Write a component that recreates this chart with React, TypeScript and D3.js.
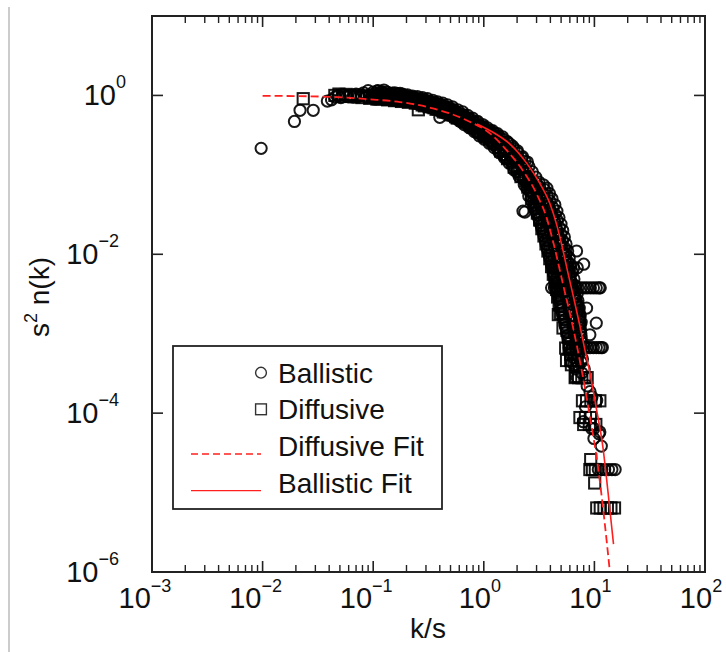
import React from 'react';
import * as d3 from 'd3';

type P = [number, number];

const xTickExps = [-3, -2, -1, 0, 1, 2];
const yTickExps = [0, -2, -4, -6];
const legendLabels = ['Ballistic', 'Diffusive', 'Diffusive Fit', 'Ballistic Fit'];
const xTitle = 'k/s';

// Fit curves
const diffFitX = [0.01, 0.0407, 0.0935, 0.175, 0.347, 0.705, 1.14, 1.62, 2.26, 3.03, 3.65, 4.22, 5.2, 6.4, 7.56, 8.94, 10.8, 12.2, 13.7];
const diffFitY = [0.99, 0.96, 0.893, 0.825, 0.687, 0.484, 0.332, 0.202, 0.113, 0.0562, 0.0305, 0.0147, 0.00421, 0.00121, 3.87e-4, 1.05e-4, 2.05e-5, 5.06e-6, 1.11e-6];
const ballFitX = [0.868, 1.263, 1.725, 2.458, 3.222, 3.968, 4.589, 5.095, 5.771, 6.54, 7.41, 8.222, 9.125, 10.34, 11.96, 13.27, 14.89];
const ballFitY = [0.4375, 0.332, 0.244, 0.1385, 0.0774, 0.0432, 0.0228, 0.0127, 0.0058, 0.00272, 0.00124, 6.17e-4, 3.16e-4, 1.21e-4, 3.66e-5, 1.02e-5, 2.24e-6];

// Ballistic (circles)
const ballisticLow: P[] = [
  [0.0097, 0.216], [0.0194, 0.47], [0.0218, 0.65], [0.0287, 0.65], [0.0385, 0.85], [0.042, 0.88],
  [0.045, 0.95], [0.048, 1.0], [0.051, 0.94], [0.054, 1.02], [0.058, 0.97], [0.062, 1.0], [0.066, 0.95],
  [0.07, 1.04], [0.074, 0.98], [0.078, 1.01], [0.082, 1.08], [0.086, 0.96], [0.09, 1.15], [0.093, 1.02],
  [0.096, 0.94], [0.11, 1.15], [0.125, 1.17], [0.4, 0.53], [2.26, 0.035], [2.35, 0.034],
];
const ballisticFlat: P[] = [
  [0.1, 1.1], [0.103, 0.9], [0.106, 1.0], [0.109, 1.13], [0.113, 0.92], [0.117, 1.03], [0.121, 1.09],
  [0.125, 0.89], [0.13, 0.98], [0.134, 1.1], [0.139, 0.9], [0.144, 1.02], [0.149, 1.07], [0.155, 0.87],
  [0.16, 0.97], [0.166, 1.05], [0.172, 0.9], [0.178, 1.0], [0.184, 1.04], [0.19, 0.85], [0.197, 0.95],
  [0.204, 1.02], [0.211, 0.84], [0.219, 0.93], [0.227, 0.98], [0.235, 0.8], [0.243, 0.9], [0.251, 0.97],
  [0.26, 0.78], [0.27, 0.87], [0.279, 0.94], [0.289, 0.75], [0.3, 0.84], [0.31, 0.91], [0.32, 0.71],
  [0.333, 0.8], [0.345, 0.87], [0.357, 0.67], [0.37, 0.77], [0.383, 0.83], [0.396, 0.64], [0.41, 0.73],
  [0.425, 0.8], [0.44, 0.6], [0.455, 0.69], [0.47, 0.76], [0.49, 0.56], [0.505, 0.65], [0.52, 0.72],
  [0.54, 0.52], [0.56, 0.6], [0.58, 0.66], [0.6, 0.48], [0.62, 0.55], [0.645, 0.62], [0.665, 0.43],
  [0.69, 0.5], [0.715, 0.56], [0.74, 0.39], [0.765, 0.46], [0.79, 0.52], [0.82, 0.35], [0.85, 0.41],
  [0.88, 0.47], [0.91, 0.31], [0.94, 0.37], [0.975, 0.43], [1.01, 0.28], [1.045, 0.34], [1.08, 0.39],
  [1.12, 0.25], [1.16, 0.3], [1.2, 0.36], [1.24, 0.22], [1.29, 0.27], [1.33, 0.33], [1.38, 0.19],
  [1.43, 0.24], [1.48, 0.3], [1.53, 0.165], [1.58, 0.21], [1.64, 0.26], [1.7, 0.14], [1.76, 0.18],
  [1.82, 0.23], [1.88, 0.115], [1.95, 0.155], [2.02, 0.2], [2.09, 0.095], [2.16, 0.13], [2.24, 0.17],
  [2.32, 0.075], [2.4, 0.11], [2.48, 0.145],
];
const ballisticFlatB: P[] = [
  [0.101, 0.98], [0.104, 1.06], [0.108, 0.94], [0.111, 1.04], [0.115, 0.97], [0.119, 1.12], [0.123, 0.95],
  [0.127, 1.04], [0.132, 0.92], [0.136, 1.0], [0.141, 1.06], [0.146, 0.93], [0.152, 1.0], [0.157, 1.08],
  [0.163, 0.9], [0.169, 0.99], [0.175, 1.06], [0.181, 0.88], [0.187, 0.96], [0.194, 1.0], [0.2, 0.87],
  [0.208, 0.97], [0.215, 0.9], [0.223, 0.95], [0.231, 0.85], [0.239, 0.94], [0.247, 0.83], [0.256, 0.9],
  [0.265, 0.82], [0.274, 0.9], [0.284, 0.8], [0.294, 0.88], [0.305, 0.77], [0.315, 0.85], [0.327, 0.75],
  [0.339, 0.82], [0.351, 0.72], [0.363, 0.81], [0.376, 0.7], [0.39, 0.78], [0.403, 0.67], [0.418, 0.76],
  [0.432, 0.65], [0.448, 0.72], [0.462, 0.61], [0.48, 0.7], [0.497, 0.58], [0.512, 0.68], [0.53, 0.56],
  [0.55, 0.64], [0.57, 0.51], [0.59, 0.6], [0.61, 0.5], [0.632, 0.58], [0.655, 0.47], [0.678, 0.55],
  [0.702, 0.44], [0.727, 0.51], [0.752, 0.41], [0.778, 0.49], [0.805, 0.38], [0.835, 0.45], [0.865, 0.34],
  [0.895, 0.42], [0.925, 0.33], [0.958, 0.4], [0.99, 0.3], [1.03, 0.37], [1.06, 0.3], [1.1, 0.33],
  [1.14, 0.27], [1.18, 0.33], [1.22, 0.24], [1.26, 0.3], [1.31, 0.22], [1.35, 0.28], [1.4, 0.2],
  [1.45, 0.26], [1.5, 0.18], [1.55, 0.24], [1.61, 0.16], [1.67, 0.22], [1.73, 0.15], [1.79, 0.2],
  [1.85, 0.13], [1.92, 0.17], [1.98, 0.11], [2.05, 0.15], [2.12, 0.1], [2.2, 0.14], [2.28, 0.088],
  [2.36, 0.12], [2.44, 0.08], [2.52, 0.105], [2.6, 0.075],
];
const ballisticOuter: P[] = [
  [0.95, 0.41], [1.05, 0.38], [1.15, 0.356], [1.263, 0.332], [1.38, 0.304], [1.5, 0.28], [1.62, 0.26],
  [1.725, 0.244], [1.87, 0.2145], [2.03, 0.188], [2.2, 0.165], [2.36, 0.148], [2.56, 0.127], [2.75, 0.109],
  [2.95, 0.0936], [3.15, 0.0813], [3.45, 0.075], [3.72, 0.068], [3.93, 0.058], [4.14, 0.05], [4.39, 0.042],
  [4.58, 0.035], [4.78, 0.029], [4.99, 0.024], [5.17, 0.02], [5.35, 0.0165], [5.54, 0.0135], [5.73, 0.011],
  [5.92, 0.009], [6.1, 0.0074], [6.31, 0.006], [6.53, 0.0049], [6.75, 0.004], [7.0, 0.0032], [7.1, 0.0026],
  [7.3, 0.0021], [7.45, 0.0017], [7.6, 0.0014],
  [3.55, 0.065], [3.75, 0.055], [3.95, 0.047], [4.2, 0.039], [4.4, 0.032], [4.6, 0.027], [4.8, 0.022],
  [4.98, 0.018], [5.15, 0.015], [5.35, 0.0122], [5.5, 0.01], [5.7, 0.0082], [5.85, 0.0067], [6.05, 0.0054],
  [6.25, 0.0044], [6.45, 0.0036], [6.65, 0.0029], [6.9, 0.0023], [7.1, 0.0019], [7.3, 0.0015], [7.4, 0.0012],
];
const ballisticSteep: P[] = [
  [2.56, 0.09], [2.75, 0.08], [2.9, 0.072], [2.45, 0.068], [3.1, 0.064], [2.7, 0.06], [3.3, 0.056],
  [2.55, 0.054], [2.95, 0.05], [3.6, 0.048], [2.75, 0.045], [3.2, 0.042], [3.85, 0.04], [2.9, 0.037],
  [3.45, 0.035], [4.05, 0.033], [3.05, 0.031], [3.65, 0.029], [4.3, 0.027], [3.2, 0.025], [3.85, 0.024],
  [4.5, 0.022], [3.35, 0.021], [4.0, 0.019], [4.7, 0.018], [3.5, 0.017], [4.2, 0.0155], [4.9, 0.0145],
  [3.65, 0.0135], [4.35, 0.0125], [5.15, 0.0118], [3.8, 0.011], [4.5, 0.0102], [5.35, 0.0095],
  [3.95, 0.009], [4.65, 0.0083], [5.55, 0.0078], [4.1, 0.0073], [4.85, 0.0066], [5.8, 0.0062],
  [4.25, 0.0058], [5.0, 0.0054], [6.0, 0.005], [4.4, 0.0047], [5.2, 0.0044], [6.25, 0.0041],
  [4.55, 0.0036], [5.4, 0.0034], [6.5, 0.0032], [4.7, 0.003], [5.6, 0.0028], [6.8, 0.0026],
  [4.85, 0.0025], [5.8, 0.0023], [7.1, 0.0022], [5.0, 0.002], [6.0, 0.0019], [7.3, 0.0018],
  [5.2, 0.0016], [6.2, 0.0015], [7.4, 0.0014], [5.4, 0.0013], [6.4, 0.0012], [7.5, 0.0011],
  [5.6, 0.00105], [6.6, 0.00097], [7.6, 0.0009], [5.8, 0.00085], [6.8, 0.00078], [7.5, 0.0007],
  [6.0, 0.00058], [7.0, 0.00052], [7.8, 0.00048], [6.3, 0.00043], [7.2, 0.00039], [8.1, 0.00036],
  [6.9, 0.011], [8.0, 0.0075], [8.5, 0.0021], [10.4, 0.00136], [9.1, 0.00097],
];
const ballisticSteepB: P[] = [
  [2.65, 0.085], [3.0, 0.078], [2.5, 0.075], [3.2, 0.07], [2.85, 0.066], [2.6, 0.062], [3.4, 0.06],
  [3.05, 0.057], [2.7, 0.052], [3.45, 0.052], [3.1, 0.047], [3.75, 0.044], [2.85, 0.042], [3.3, 0.039],
  [3.95, 0.037], [3.0, 0.034], [3.6, 0.032], [4.2, 0.03], [3.15, 0.028], [3.8, 0.026], [4.4, 0.025],
  [3.3, 0.023], [4.05, 0.022], [4.6, 0.02], [3.45, 0.019], [4.3, 0.018], [4.8, 0.016], [3.6, 0.015],
  [4.5, 0.014], [5.0, 0.013], [3.75, 0.012], [4.65, 0.0115], [5.25, 0.0105], [3.9, 0.0098], [4.8, 0.0094],
  [5.45, 0.0086], [4.05, 0.0081], [5.0, 0.0076], [5.7, 0.007], [4.2, 0.0066], [5.15, 0.0062], [5.9, 0.0057],
  [4.35, 0.0053], [5.35, 0.005], [6.1, 0.0046], [4.5, 0.0043], [5.5, 0.004], [6.4, 0.0037], [4.65, 0.0033],
  [5.7, 0.0031], [6.7, 0.0029], [4.8, 0.0027], [5.9, 0.0026], [7.0, 0.0024], [4.95, 0.0022], [6.1, 0.0021],
  [7.2, 0.002], [5.1, 0.0018], [6.3, 0.0017], [7.35, 0.0016], [5.3, 0.0015], [6.5, 0.0014], [7.45, 0.0013],
  [5.5, 0.0012], [6.7, 0.0011], [7.55, 0.001], [5.7, 0.00095], [6.9, 0.00088], [7.6, 0.0008], [5.9, 0.00075],
  [7.1, 0.0007], [6.2, 0.00062], [7.4, 0.00058], [6.5, 0.0005], [7.6, 0.00044], [6.7, 0.00036], [7.7, 0.00032],
  [7.0, 0.00028],
];
const ballisticRows: P[] = [
  [4.3, 0.00677], [4.55, 0.00677], [4.8, 0.00677], [5.1, 0.00677], [5.4, 0.00677], [5.75, 0.00677], [6.1, 0.00677], [6.5, 0.00677], [7.0, 0.00677],
  [4.1, 0.00378], [4.35, 0.00378], [4.6, 0.00378], [4.9, 0.00378], [5.2, 0.00378], [5.55, 0.00378], [5.9, 0.00378], [6.3, 0.00378], [6.7, 0.00378],
  [7.1, 0.00378], [7.6, 0.00378], [8.1, 0.00378], [8.6, 0.00378], [9.2, 0.00378], [9.8, 0.00378], [10.4, 0.00378], [11.0, 0.00378], [11.3, 0.00378],
  [5.9, 0.00067], [6.3, 0.00067], [6.7, 0.00067], [7.1, 0.00067], [7.6, 0.00067], [8.1, 0.00067], [8.6, 0.00067], [9.2, 0.00067], [9.8, 0.00067],
  [10.4, 0.00067], [11.0, 0.00067], [11.5, 0.00067], [11.8, 0.00067],
];
const ballisticTail: P[] = [
  [8.6, 2.2e-4], [9.12, 1.87e-4], [9.5, 1.6e-4], [10.5, 1.45e-4], [8.3, 1.2e-4], [7.94, 7.8e-5], [9.45, 6.4e-5],
  [9.9, 6.4e-5], [11.0, 5.5e-5], [11.2, 5.8e-5], [9.9, 4.8e-5], [11.55, 3.85e-5],
  [10.85, 1.95e-5], [11.6, 1.95e-5], [12.4, 1.95e-5], [13.4, 1.95e-5], [14.4, 1.95e-5], [15.4, 1.95e-5],
];

// Diffusive (squares)
const diffusiveFlat: P[] = [
  [0.0233, 0.91], [0.045, 1.0], [0.049, 1.04], [0.053, 0.97], [0.057, 1.03], [0.062, 0.99], [0.067, 0.96],
  [0.073, 1.01], [0.079, 0.94], [0.086, 0.99], [0.093, 0.92], [0.1, 0.97], [0.108, 0.9], [0.116, 0.95],
  [0.125, 0.93], [0.135, 0.88], [0.145, 0.94], [0.156, 0.86], [0.168, 0.91], [0.18, 0.84], [0.194, 0.89],
  [0.208, 0.82], [0.224, 0.86], [0.24, 0.8], [0.256, 0.66], [0.258, 0.83], [0.277, 0.76], [0.297, 0.8],
  [0.32, 0.72], [0.344, 0.76], [0.37, 0.67], [0.4, 0.71], [0.43, 0.62], [0.46, 0.66], [0.5, 0.57],
  [0.535, 0.61], [0.575, 0.52], [0.62, 0.56], [0.665, 0.47], [0.715, 0.5], [0.77, 0.42], [0.83, 0.45],
  [0.89, 0.37], [0.96, 0.4], [1.03, 0.32], [1.1, 0.35], [1.19, 0.27], [1.28, 0.3], [1.37, 0.22],
  [1.47, 0.25], [1.58, 0.18], [1.7, 0.2], [1.82, 0.145], [1.95, 0.16], [2.1, 0.11], [2.25, 0.12],
  [2.4, 0.085], [2.55, 0.09], [2.7, 0.065],
];
const diffusiveFlatB: P[] = [
  [0.11, 1.02], [0.12, 0.9], [0.13, 0.97], [0.15, 0.9], [0.17, 0.95], [0.19, 0.87], [0.21, 0.91],
  [0.23, 0.85], [0.265, 0.8], [0.29, 0.74], [0.31, 0.78], [0.355, 0.7], [0.385, 0.73], [0.415, 0.66],
  [0.45, 0.62], [0.48, 0.64], [0.52, 0.6], [0.555, 0.54], [0.6, 0.53], [0.64, 0.49], [0.69, 0.46],
  [0.74, 0.46], [0.8, 0.4], [0.86, 0.39], [0.92, 0.35], [1.0, 0.34], [1.07, 0.3], [1.15, 0.29],
  [1.23, 0.26], [1.33, 0.24], [1.42, 0.2], [1.53, 0.2], [1.64, 0.16], [1.76, 0.16], [1.88, 0.125],
  [2.02, 0.12], [2.17, 0.095], [2.33, 0.095], [2.5, 0.07], [2.62, 0.075],
];
const diffusiveSteep: P[] = [
  [2.85, 0.055], [3.0, 0.046], [2.7, 0.05], [3.15, 0.038], [2.9, 0.04], [3.35, 0.031], [3.05, 0.033],
  [3.5, 0.025], [3.2, 0.027], [3.7, 0.02], [3.35, 0.021], [3.85, 0.016], [3.5, 0.017], [4.0, 0.013],
  [3.65, 0.0135], [4.15, 0.0105], [3.8, 0.011], [4.3, 0.0085], [3.95, 0.0088], [4.45, 0.0068],
  [4.1, 0.007], [4.6, 0.0055], [4.25, 0.0056], [4.75, 0.0044], [4.4, 0.0045], [4.9, 0.0035],
  [4.55, 0.0036], [5.05, 0.0028], [4.65, 0.0029], [5.2, 0.0022], [4.8, 0.0023], [4.72, 0.00174],
  [5.35, 0.0018], [4.95, 0.0018], [5.5, 0.0014], [5.2, 0.00118], [5.65, 0.0011], [5.8, 0.0009],
  [5.95, 0.00075], [5.5, 0.00066], [6.1, 0.00055], [6.2, 0.000407], [6.92, 4.07e-4], [6.8, 2.9e-4],
];
const diffusiveTail: P[] = [
  [5.9, 6.7e-4], [6.3, 6.7e-4], [6.8, 6.7e-4], [7.3, 6.7e-4], [7.9, 6.7e-4],
  [5.6, 4.6e-4], [6.1, 4.6e-4], [6.6, 4.6e-4], [7.0, 4.6e-4],
  [6.7, 2.8e-4], [7.2, 2.8e-4], [7.7, 2.8e-4], [8.2, 2.8e-4], [8.6, 2.8e-4],
  [7.8, 1.43e-4], [8.5, 1.43e-4], [9.3, 1.43e-4], [10.2, 1.43e-4], [11.2, 1.43e-4],
  [7.4, 8.8e-5], [8.3, 8.8e-5], [9.2, 8.8e-5], [8.0, 7.2e-5], [9.0, 7.2e-5], [10.3, 7.2e-5],
  [9.26, 2.6e-5], [9.1, 1.95e-5], [9.6, 1.95e-5], [10.2, 1.95e-5], [10.06, 1.32e-5],
  [10.5, 6.4e-6], [11.3, 6.4e-6], [12.2, 6.4e-6], [13.1, 6.4e-6], [14.1, 6.4e-6], [15.2, 6.4e-6],
];

const W = 726, H = 652;
const L = 152, R = 705, T = 16, B = 572;
const FONT = '"Liberation Sans", Arial, Helvetica, sans-serif';
const INK = '#222';
const RED = '#ff1f1f';

export default function App() {
  const x = d3.scaleLog().domain([1e-3, 1e2]).range([L, R]);
  const y = d3.scaleLog().domain([1e-6, 10]).range([B, T]);

  const ballistic = [...ballisticLow, ...ballisticFlat, ...ballisticFlatB, ...ballisticOuter, ...ballisticSteep, ...ballisticSteepB, ...ballisticRows, ...ballisticTail];
  const diffusive = [...diffusiveFlat, ...diffusiveFlatB, ...diffusiveSteep, ...diffusiveTail];

  const line = d3.line<[number, number]>().x(d => x(d[0])).y(d => y(d[1])).curve(d3.curveMonotoneX);
  const diffFit = diffFitX.map((v, i) => [v, diffFitY[i]] as [number, number]);
  const ballFit = ballFitX.map((v, i) => [v, ballFitY[i]] as [number, number]);

  const minor: number[] = [];
  for (let e = -3; e < 2; e++) for (let m = 2; m <= 9; m++) minor.push(m * Math.pow(10, e));

  const r = 5.6;
  const s = 11.2;
  const rowY = [372.7, 409.3, 446, 482.7];

  return (
    <svg width={W} height={H} style={{ position: 'absolute', left: 0, top: 0, background: '#fff' }} fontFamily={FONT}>
      <rect x={0} y={0} width={W} height={H} fill="#fff" />
      <line x1={9} x2={9} y1={7} y2={H} stroke="#999" strokeWidth={1} />

      {/* legend */}
      <rect x={173} y={346} width={269} height={163} fill="#fff" stroke={INK} strokeWidth={1.8} />
      <circle cx={261} cy={rowY[0]} r={5.4} fill="none" stroke="#333" strokeWidth={1.4} />
      <rect x={261 - 5.4} y={rowY[1] - 5.4} width={10.8} height={10.8} fill="none" stroke="#333" strokeWidth={1.4} />
      <line x1={191} x2={261} y1={rowY[2] + 8} y2={rowY[2] + 8} stroke={RED} strokeWidth={1.3} strokeDasharray="7,4" />
      <line x1={191} x2={261} y1={rowY[3] + 8} y2={rowY[3] + 8} stroke={RED} strokeWidth={1.3} />
      {legendLabels.map((t, i) => (
        <text key={t} x={278} y={rowY[i] + 10} fontSize={28} fill="#111">{t}</text>
      ))}

      {/* points */}
      <g fill="none" stroke="#000" strokeWidth={2} strokeOpacity={0.9}>
        {ballistic.map((d, i) => (
          <circle key={'b' + i} cx={x(d[0])} cy={y(d[1])} r={r} />
        ))}
        {diffusive.map((d, i) => (
          <rect key={'d' + i} x={x(d[0]) - s / 2} y={y(d[1]) - s / 2} width={s} height={s} />
        ))}
      </g>

      {/* fits */}
      <path d={line(ballFit) || ''} fill="none" stroke={RED} strokeWidth={1.6} />
      <path d={line(diffFit) || ''} fill="none" stroke={RED} strokeWidth={1.8} strokeDasharray="8,4" />

      {/* frame */}
      <rect x={L} y={T} width={R - L} height={B - T} fill="none" stroke={INK} strokeWidth={2} />

      {/* x ticks */}
      {xTickExps.map(e => {
        const px = x(Math.pow(10, e));
        return (
          <g key={'xt' + e}>
            <line x1={px} x2={px} y1={B} y2={B - 11} stroke={INK} strokeWidth={1.6} />
            <line x1={px} x2={px} y1={T} y2={T + 11} stroke={INK} strokeWidth={1.6} />
            <text x={px + (e < 0 ? -7 : -4)} y={608} fontSize={29} textAnchor="middle" fill="#111">
              10<tspan dy={-16} fontSize={18}>{e < 0 ? '\u2212' + Math.abs(e) : String(e)}</tspan>
            </text>
          </g>
        );
      })}
      {minor.map((v, i) => {
        const px = x(v);
        return (
          <g key={'mn' + i}>
            <line x1={px} x2={px} y1={B} y2={B - 7} stroke={INK} strokeWidth={1.4} />
            <line x1={px} x2={px} y1={T} y2={T + 7} stroke={INK} strokeWidth={1.4} />
          </g>
        );
      })}

      {/* y ticks */}
      {yTickExps.map(e => {
        const py = y(Math.pow(10, e));
        return (
          <g key={'yt' + e}>
            <line x1={L} x2={L + 11} y1={py} y2={py} stroke={INK} strokeWidth={1.6} />
            <line x1={R} x2={R - 11} y1={py} y2={py} stroke={INK} strokeWidth={1.6} />
            <text x={e < 0 ? 119 : 126} y={py + 10} fontSize={29} textAnchor="end" fill="#111">
              10<tspan dy={-17} fontSize={18}>{e < 0 ? '\u2212' + Math.abs(e) : String(e)}</tspan>
            </text>
          </g>
        );
      })}

      {/* axis titles */}
      <text x={428} y={638} fontSize={28} textAnchor="middle" fill="#111">{xTitle}</text>
      <text transform="translate(49,297) rotate(-90)" fontSize={28} textAnchor="middle" fill="#111">
        s<tspan dy={-12} fontSize={18}>2</tspan><tspan dy={12}> n(k)</tspan>
      </text>
    </svg>
  );
}
